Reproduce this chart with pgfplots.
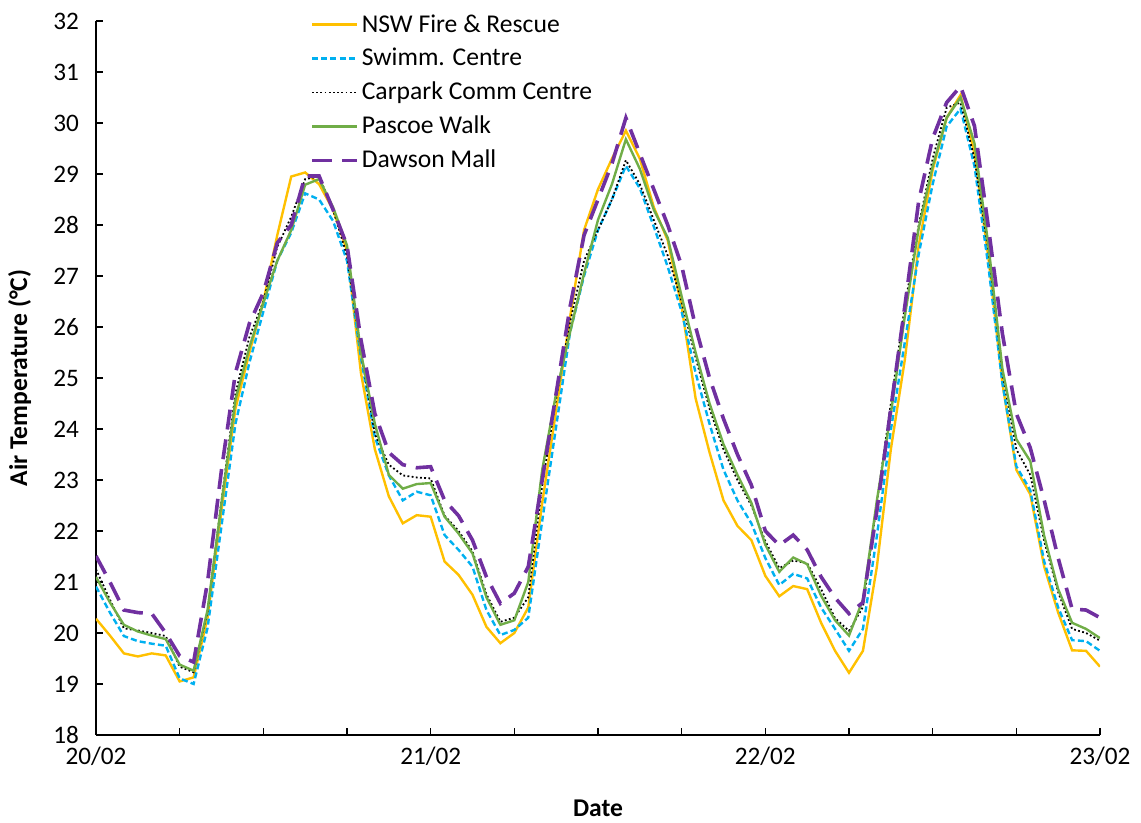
\documentclass[border=0pt]{standalone}
\usepackage{fontspec}
\setmainfont{Carlito}
\usepackage{pgfplots}
\usepackage{pgfplotstable}
\pgfplotsset{compat=1.18}
\definecolor{cNSW}{HTML}{FFC000}
\definecolor{cSwim}{HTML}{00B0F0}
\definecolor{cPas}{HTML}{70AD47}
\definecolor{cDaw}{HTML}{7030A0}
\pgfplotstableread{
h nsw swim car pas daw
0 20.28 20.91 21.25 21.10 21.51
1 19.95 20.40 20.65 20.60 21.00
2 19.60 19.94 20.09 20.16 20.45
3 19.54 19.84 20.05 20.03 20.40
4 19.60 19.79 20.00 19.95 20.38
5 19.56 19.75 19.94 19.88 20.00
6 19.05 19.11 19.34 19.38 19.55
7 19.13 19.00 19.23 19.26 19.43
8 20.30 20.10 20.40 20.45 21.00
9 22.40 22.10 22.60 22.55 23.20
10 24.40 24.10 24.70 24.57 25.10
11 25.50 25.30 25.80 25.60 26.07
12 26.50 26.30 26.50 26.47 26.67
13 27.80 27.30 27.57 27.30 27.65
14 28.95 27.85 28.16 27.90 28.00
15 29.03 28.62 28.90 28.79 28.96
16 28.80 28.50 28.95 28.90 28.96
17 28.30 28.08 28.30 28.35 28.30
18 27.50 27.30 27.40 27.60 27.60
19 25.10 25.40 25.50 25.50 25.75
20 23.60 23.84 23.90 24.10 24.30
21 22.68 23.09 23.30 23.10 23.54
22 22.15 22.60 23.09 22.83 23.30
23 22.31 22.77 23.05 22.92 23.24
24 22.28 22.70 23.03 22.94 23.26
25 21.40 21.92 22.30 22.28 22.60
26 21.14 21.63 22.00 21.95 22.30
27 20.75 21.30 21.60 21.56 21.82
28 20.12 20.45 20.76 20.70 21.10
29 19.80 19.96 20.22 20.16 20.58
30 20.00 20.06 20.30 20.25 20.78
31 20.50 20.30 20.70 21.00 21.30
32 22.55 22.20 22.90 23.20 23.00
33 24.37 24.05 24.60 24.70 24.70
34 26.20 25.90 26.10 25.90 26.40
35 27.90 27.00 27.30 27.05 27.80
36 28.70 27.90 27.90 28.10 28.50
37 29.30 28.50 28.50 28.80 29.20
38 29.85 29.16 29.27 29.68 30.10
39 29.30 28.72 28.80 29.10 29.40
40 28.35 27.97 28.10 28.30 28.70
41 27.70 27.18 27.40 27.75 28.00
42 26.40 26.30 26.50 26.60 27.20
43 24.60 25.10 25.40 25.50 26.00
44 23.54 24.10 24.40 24.50 25.00
45 22.60 23.20 23.60 23.70 24.20
46 22.10 22.60 23.00 23.10 23.50
47 21.82 22.15 22.50 22.55 22.90
48 21.12 21.47 21.80 21.73 22.00
49 20.72 20.94 21.27 21.20 21.72
50 20.92 21.16 21.42 21.48 21.92
51 20.86 21.07 21.37 21.35 21.63
52 20.20 20.50 20.86 20.73 21.10
53 19.65 20.08 20.29 20.25 20.69
54 19.22 19.65 20.04 19.95 20.38
55 19.65 20.08 20.51 20.65 20.60
56 21.30 21.90 22.55 22.60 22.40
57 23.60 23.98 24.50 24.30 24.40
58 25.35 25.70 26.40 26.20 26.40
59 27.60 27.43 28.00 27.94 28.47
60 29.08 28.80 29.30 29.15 29.70
61 30.10 29.93 30.30 30.10 30.40
62 30.55 30.28 30.40 30.50 30.72
63 29.40 29.15 29.30 29.60 29.94
64 27.35 27.18 27.50 27.60 27.95
65 24.90 24.90 25.10 25.18 25.87
66 23.20 23.27 23.60 23.80 24.30
67 22.72 22.80 23.10 23.37 23.63
68 21.30 21.40 21.80 21.90 22.60
69 20.40 20.50 20.80 20.86 21.47
70 19.66 19.86 20.08 20.20 20.47
71 19.65 19.84 20.00 20.08 20.45
72 19.34 19.65 19.85 19.90 20.30
}\data
\begin{document}
\begin{tikzpicture}
\begin{axis}[
  name=ax,
  scale only axis,
  width=502pt, height=357pt,
  xmin=0, xmax=3, ymin=18, ymax=32,
  axis x line*=bottom, axis y line*=left,
  axis line style={black, line width=0.9pt},
  xtick={0,1,2,3},
  xticklabels={20/02,21/02,22/02,23/02},
  minor xtick={0.25,0.5,0.75,1.25,1.5,1.75,2.25,2.5,2.75},
  ytick={18,19,...,32},
  tick align=inside,
  major tick length=3.5pt, minor tick length=3.5pt,
  tick style={black, line width=0.7pt},
  /pgf/number format/assume math mode=true,
  ticklabel style={font=\fontsize{12.6pt}{14pt}\selectfont, text=black},
  yticklabel style={xshift=-5pt},
  xticklabel style={yshift=-2.5pt},
  xlabel={\textbf{Date}},
  ylabel={\textbf{Air Temperature (°C)}},
  label style={font=\fontsize{12.8pt}{14pt}\selectfont},
  xlabel style={at={(axis description cs:0.5,-0.102)}, anchor=center},
  ylabel style={at={(axis description cs:-0.076,0.5)}, anchor=center},
  legend style={draw=none, fill=none, at={(axis description cs:0.213,1.014)}, anchor=north west,
    font=\fontsize{12.8pt}{14pt}\selectfont, row sep=3.6pt, inner sep=0pt,
    nodes={inner sep=1.5pt}},
  legend cell align=left,
  legend image code/.code={\draw[#1] (0pt,0pt) -- (22.5pt,0pt);},
]
\addplot[cNSW, line width=1.2pt] table[x expr=\thisrow{h}/24, y=nsw] {\data};
\addlegendentry{NSW Fire \& Rescue}
\addplot[cSwim, line width=1.2pt, dash pattern=on 3pt off 1.6pt] table[x expr=\thisrow{h}/24, y=swim] {\data};
\addlegendentry{Swimm. Centre}
\addplot[black, line width=0.9pt, dash pattern=on 0.9pt off 1.2pt] table[x expr=\thisrow{h}/24, y=car] {\data};
\addlegendentry{Carpark Comm Centre}
\addplot[cPas, line width=1.2pt] table[x expr=\thisrow{h}/24, y=pas] {\data};
\addlegendentry{Pascoe Walk}
\addplot[cDaw, line width=1.8pt, dash pattern=on 10pt off 5pt] table[x expr=\thisrow{h}/24, y=daw] {\data};
\addlegendentry{Dawson Mall}
\end{axis}
\pgfresetboundingbox
\path ([xshift=-48pt,yshift=-44pt]ax.south west) rectangle ([xshift=20.5pt,yshift=10.5pt]ax.north east);
\end{tikzpicture}
\end{document}
